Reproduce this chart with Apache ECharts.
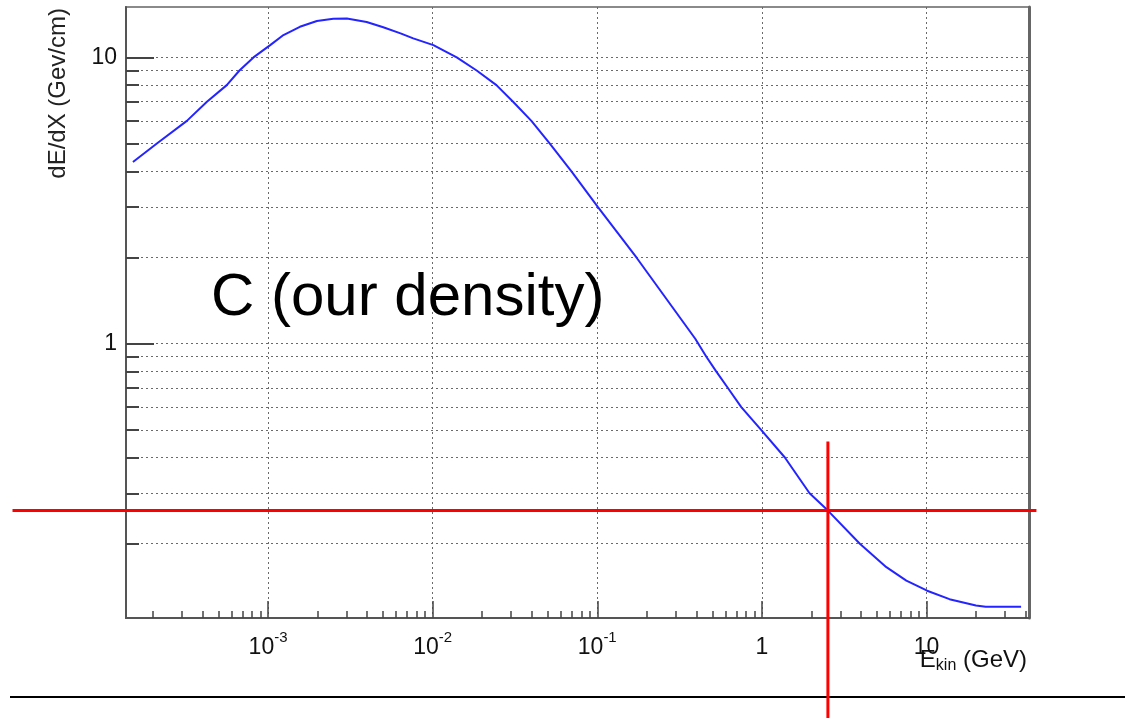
<!DOCTYPE html>
<html><head><meta charset="utf-8">
<script src="https://cdn.jsdelivr.net/npm/echarts@6/dist/echarts.min.js"></script>
<style>html,body{margin:0;padding:0;background:#fff}#c{width:1125px;height:718px}</style>
</head><body><div id="c"></div>
<script>
// Kinetic energy (GeV) and stopping power dE/dX (GeV/cm)
const energyGeV = [1.51e-4, 2.11e-4, 3.21e-4, 4.25e-4, 5.61e-4, 6.70e-4, 8.15e-4, 1.03e-3, 1.24e-3, 1.56e-3,
  1.98e-3, 2.49e-3, 3.01e-3, 3.97e-3, 5.01e-3, 6.38e-3, 7.62e-3, 1.01e-2, 1.40e-2, 1.85e-2,
  2.44e-2, 3.08e-2, 3.98e-2, 5.15e-2, 6.97e-2, 0.101, 0.173, 0.394, 0.46, 0.528,
  0.622, 0.75, 0.99, 1.38, 1.95, 2.52, 3.94, 5.71, 7.55, 10.1,
  13.8, 20.0, 22.9, 37.6];
const dEdX = [4.31, 5.0, 6.0, 7.0, 8.0, 9.0, 10.0, 11.04, 11.97, 12.79,
  13.4, 13.65, 13.68, 13.3, 12.74, 12.13, 11.65, 11.04, 10.0, 9.0,
  8.0, 7.0, 6.0, 5.0, 4.0, 3.0, 2.0, 1.04, 0.9, 0.8,
  0.7, 0.6, 0.5, 0.4, 0.3, 0.261, 0.2, 0.1656, 0.1486, 0.137,
  0.128, 0.1216, 0.1205, 0.1205];

const xRange = [1.37e-4, 42];
const yRange = [0.11, 15];
const xMajorTicks = [1e-3, 1e-2, 1e-1, 1, 10];
const xMinorTicks = [2e-4,3e-4,4e-4,5e-4,6e-4,7e-4,8e-4,9e-4,
  2e-3,3e-3,4e-3,5e-3,6e-3,7e-3,8e-3,9e-3,
  2e-2,3e-2,4e-2,5e-2,6e-2,7e-2,8e-2,9e-2,
  0.2,0.3,0.4,0.5,0.6,0.7,0.8,0.9,
  2,3,4,5,6,7,8,9,20,30,40];
const yMajorTicks = [1, 10];
const yGridTicks = [0.2,0.3,0.4,0.5,0.6,0.7,0.8,0.9,1,2,3,4,5,6,7,8,9,10];

// red cross-hair annotation (data coordinates)
const markerE = 2.52;
const markerDEDX = 0.261;
const markerHSpanE = [2.8e-5, 46.6];
const markerVSpanDEDX = [0.455, 0.049];
const annotationText = 'C (our density)';
const xTitleParts = ['E', 'kin', ' (GeV)'];
const yTitle = 'dE/dX (Gev/cm)';

const FONT = 'Liberation Sans';
const gridDots = { color: '#6a6a6a', width: 1, type: [2, 3] };

function xLabel(v) {
  const e = Math.round(Math.log10(v));
  if (e === 0) return '{b|1}';
  if (e === 1) return '{b|10}';
  return '{b|10}{s|' + e + '}';
}
const labelRich = {
  b: { fontSize: 23, fontFamily: FONT, color: '#111', lineHeight: 35 },
  s: { fontSize: 15, fontFamily: FONT, color: '#111', lineHeight: 15, padding: [0, 0, 20, 0] }
};

const curve = energyGeV.map((e, i) => [e, dEdX[i]]);

const chart = echarts.init(document.getElementById('c'), null, { renderer: 'canvas' });
chart.setOption({
  animation: false,
  backgroundColor: '#fff',
  grid: { left: 126, top: 7, right: 96, bottom: 100, show: true, borderColor: '#8a8a8a', borderWidth: 2, backgroundColor: 'transparent' },
  xAxis: [
    {
      type: 'log', logBase: 10, min: xRange[0], max: xRange[1], position: 'bottom',
      axisLine: { show: true, lineStyle: { color: '#555', width: 2 } },
      axisTick: { show: true, inside: true, length: 17, customValues: xMajorTicks, lineStyle: { color: '#444', width: 1.5 } },
      axisLabel: { show: true, customValues: xMajorTicks, margin: 12, formatter: xLabel, rich: labelRich, hideOverlap: false },
      splitLine: { show: true, lineStyle: gridDots },
      minorTick: { show: false }, minorSplitLine: { show: false },
      name: '{e|' + xTitleParts[0] + '}{k|' + xTitleParts[1] + '}{g|' + xTitleParts[2] + '}',
      nameLocation: 'end', nameGap: -2, nameMoveOverlap: false,
      nameTextStyle: {
        align: 'right', verticalAlign: 'top', padding: [29, 0, 0, 0],
        rich: {
          e: { fontSize: 24, fontFamily: FONT, color: '#111', lineHeight: 26 },
          k: { fontSize: 16, fontFamily: FONT, color: '#111', lineHeight: 16, padding: [12, 0, 0, 0] },
          g: { fontSize: 24, fontFamily: FONT, color: '#111', lineHeight: 26 }
        }
      }
    },
    {
      type: 'log', logBase: 10, min: xRange[0], max: xRange[1], position: 'bottom',
      axisLine: { show: false },
      axisTick: { show: true, inside: true, length: 7, customValues: xMinorTicks, lineStyle: { color: '#444', width: 1.5 } },
      axisLabel: { show: false },
      splitLine: { show: false }
    }
  ],
  yAxis: [
    {
      type: 'log', logBase: 10, min: yRange[0], max: yRange[1], position: 'left',
      axisLine: { show: true, lineStyle: { color: '#555', width: 2 } },
      axisTick: { show: true, inside: true, length: 28, customValues: yMajorTicks, lineStyle: { color: '#444', width: 2 } },
      axisLabel: { show: true, customValues: yMajorTicks, margin: 9, fontSize: 23, fontFamily: FONT, color: '#111', formatter: v => String(Math.round(v)) },
      splitLine: { show: false },
      name: yTitle, nameLocation: 'end', nameGap: -1, nameRotate: 90, nameMoveOverlap: false,
      nameTextStyle: { align: 'right', verticalAlign: 'bottom', padding: [0, 0, 56, 0], fontSize: 24, fontFamily: FONT, color: '#222' }
    },
    {
      type: 'log', logBase: 10, min: yRange[0], max: yRange[1], position: 'left',
      axisLine: { show: false },
      axisTick: { show: true, inside: true, length: 13, customValues: yGridTicks, lineStyle: { color: '#444', width: 2 } },
      axisLabel: { show: false },
      splitLine: { show: true, lineStyle: gridDots }
    },
    {
      type: 'log', logBase: 10, min: yRange[0], max: yRange[1], position: 'right',
      axisLine: { show: true, lineStyle: { color: '#666', width: 3 } },
      axisTick: { show: false }, axisLabel: { show: false }, splitLine: { show: false }
    }
  ],
  series: [
    {
      type: 'line', data: curve, showSymbol: false, symbol: 'none', smooth: false,
      lineStyle: { color: '#2424ff', width: 2 }, z: 3
    }
  ],
  graphic: [
    { id: 'note', type: 'text', x: 211, y: 298, z: 10,
      style: { text: annotationText, fontSize: 60, fontFamily: FONT, fill: '#000', align: 'left', verticalAlign: 'middle' } },
    { id: 'rule', type: 'line', z: 10, shape: { x1: 10, y1: 697, x2: 1125, y2: 697 }, style: { stroke: '#000', lineWidth: 2 } }
  ]
});

// red cross-hair placed through the chart's own axes
const toPx = p => chart.convertToPixel({ xAxisIndex: 0, yAxisIndex: 0 }, p);
const h0 = toPx([markerHSpanE[0], markerDEDX]);
const h1 = toPx([markerHSpanE[1], markerDEDX]);
const v0 = toPx([markerE, markerVSpanDEDX[0]]);
const v1 = toPx([markerE, markerVSpanDEDX[1]]);
chart.setOption({
  graphic: [
    { id: 'hline', type: 'line', z: 20, shape: { x1: h0[0], y1: h0[1], x2: h1[0], y2: h1[1] }, style: { stroke: '#ff0000', lineWidth: 3 } },
    { id: 'vline', type: 'line', z: 20, shape: { x1: v0[0], y1: v0[1], x2: v1[0], y2: v1[1] }, style: { stroke: '#ff0000', lineWidth: 3 } }
  ]
});
</script></body></html>
